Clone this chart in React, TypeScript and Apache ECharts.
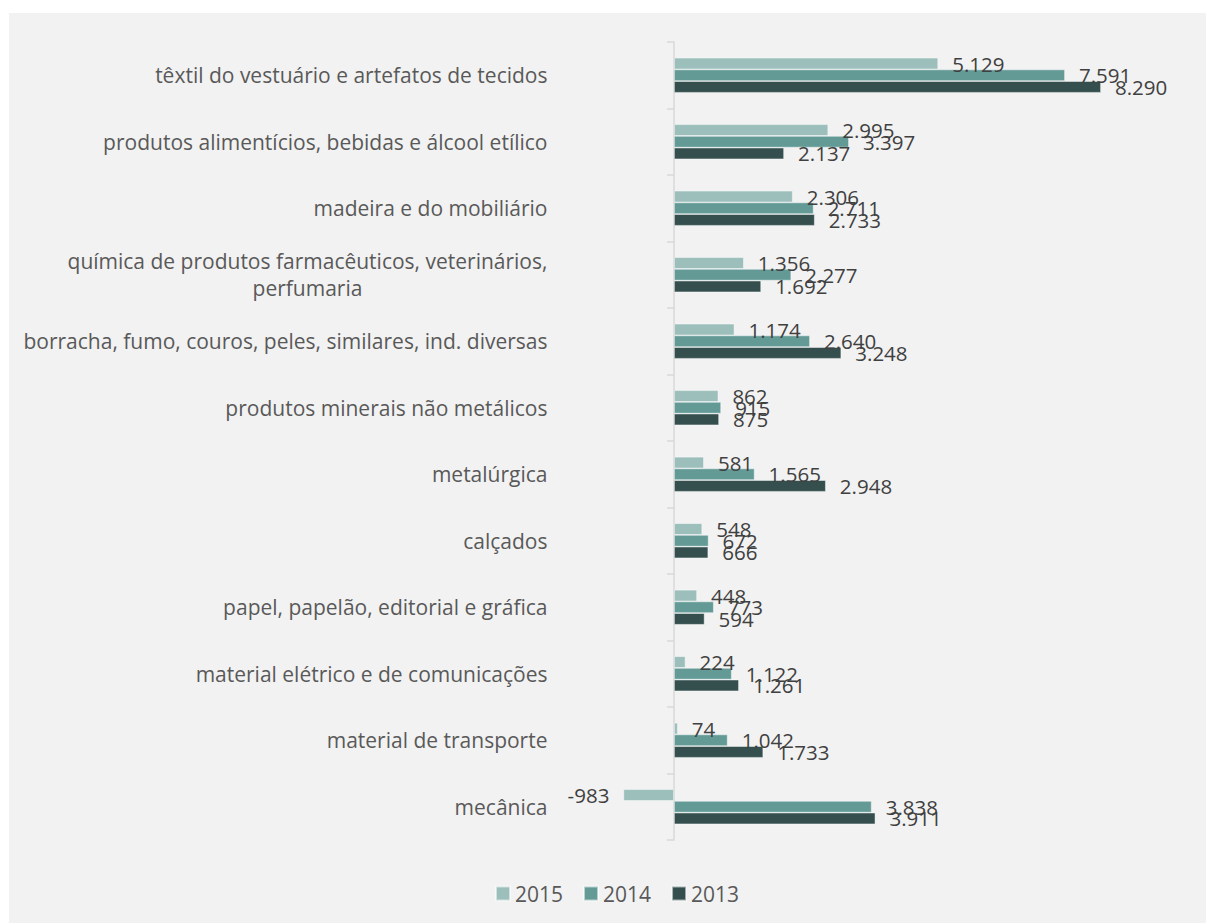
import React, { useEffect, useRef } from "react";
import * as echarts from "echarts";

// Industrial segments, top to bottom
const categories: string[] = [
  "têxtil do vestuário e artefatos de tecidos",
  "produtos alimentícios, bebidas e álcool etílico",
  "madeira e do mobiliário",
  "química de produtos farmacêuticos, veterinários,\nperfumaria",
  "borracha, fumo, couros, peles, similares, ind. diversas",
  "produtos minerais não metálicos",
  "metalúrgica",
  "calçados",
  "papel, papelão, editorial e gráfica",
  "material elétrico e de comunicações",
  "material de transporte",
  "mecânica",
];

const values2015: number[] = [5129, 2995, 2306, 1356, 1174, 862, 581, 548, 448, 224, 74, -983];
const values2014: number[] = [7591, 3397, 2711, 2277, 2640, 915, 1565, 672, 773, 1122, 1042, 3838];
const values2013: number[] = [8290, 2137, 2733, 1692, 3248, 875, 2948, 666, 594, 1261, 1733, 3911];

const seriesNames: string[] = ["2015", "2014", "2013"];
const seriesColors: string[] = ["#9cbfbc", "#639a96", "#344f4e"];

const FONT = '"Open Sans", "Noto Sans", sans-serif';
const LABEL_SIZE = 21;

// Brazilian-style thousands separator: 8290 -> 8.290
const fmt = (v: number): string => {
  const s = String(Math.abs(v)).replace(/\B(?=(\d{3})+(?!\d))/g, ".");
  return v < 0 ? "-" + s : s;
};

const measure = (text: string, size: number): number => {
  const c = document.createElement("canvas").getContext("2d");
  if (!c) return text.length * size * 0.5;
  c.font = `${size}px "Open Sans"`;
  return c.measureText(text).width;
};

export default function App() {
  const ref = useRef<HTMLDivElement>(null);

  useEffect(() => {
    if (!ref.current) return;
    const chart = echarts.init(ref.current, undefined, { renderer: "svg" });

    const wrapWidth = Math.ceil(
      Math.max(
        ...categories
          .filter((c) => c.includes("\n"))
          .flatMap((c) => c.split("\n"))
          .map((l) => measure(l, LABEL_SIZE))
      )
    );

    const makeSeries = (name: string, data: number[], color: string) => ({
      name,
      type: "bar",
      barWidth: 11.7,
      barGap: "0%",
      itemStyle: { color, borderColor: "rgba(255,255,255,0.55)", borderWidth: 0.8 },
      label: {
        show: true,
        position: "right",
        distance: 14,
        fontFamily: FONT,
        fontSize: 20.5,
        color: "#404040",
        formatter: (p: any) => fmt(p.value),
      },
      data: data.map((v) =>
        v < 0 ? { value: v, label: { position: "left" } } : v
      ),
    });

    chart.setOption({
      animation: false,
      textStyle: { fontFamily: FONT },
      grid: {
        left: 613.49,
        top: 29,
        width: 515.08,
        height: 798,
        containLabel: false,
      },
      xAxis: {
        type: "value",
        min: -1000,
        max: 9000,
        show: false,
      },
      yAxis: {
        type: "category",
        inverse: true,
        data: categories,
        axisLine: { show: true, lineStyle: { color: "#d9d9d9", width: 1.5 } },
        axisTick: { show: true, length: 7, lineStyle: { color: "#d9d9d9", width: 1.5 } },
        axisLabel: {
          margin: 75,
          fontFamily: FONT,
          fontSize: LABEL_SIZE,
          color: "#595959",
          formatter: (v: string) =>
            v.includes("\n")
              ? v
                  .split("\n")
                  .map((l) => `{c|${l}}`)
                  .join("\n")
              : v,
          rich: {
            c: {
              width: wrapWidth,
              align: "center",
              fontFamily: FONT,
              fontSize: LABEL_SIZE,
              color: "#595959",
              lineHeight: 27,
            },
          },
        },
      },
      legend: {
        data: seriesNames,
        left: 481,
        top: 865,
        icon: "rect",
        itemWidth: 14,
        itemHeight: 14,
        itemGap: 20,
        textStyle: { fontFamily: FONT, fontSize: LABEL_SIZE, color: "#595959" },
      },
      series: [
        makeSeries(seriesNames[0], values2015, seriesColors[0]),
        makeSeries(seriesNames[1], values2014, seriesColors[1]),
        makeSeries(seriesNames[2], values2013, seriesColors[2]),
      ],
    });

    return () => chart.dispose();
  }, []);

  return (
    <div
      style={{
        position: "fixed",
        left: 0,
        top: 0,
        width: 1206,
        height: 923,
        background: "#ffffff",
      }}
    >
      <div
        ref={ref}
        style={{
          position: "absolute",
          left: 9,
          top: 13,
          width: 1197,
          height: 910,
          background: "#f2f2f2",
        }}
      />
    </div>
  );
}
